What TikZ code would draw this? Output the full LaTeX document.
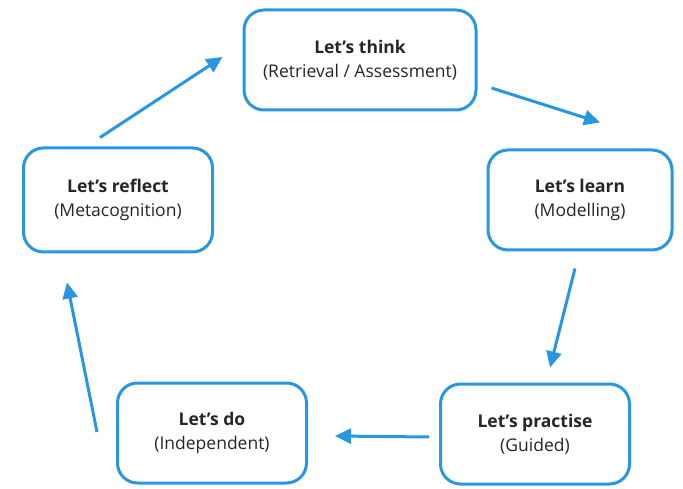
\documentclass[tikz,border=0pt]{standalone}
\usepackage{fontspec}
\setmainfont{Open Sans}
\usepackage{tikz}
\usetikzlibrary{arrows.meta}
\definecolor{cycleblue}{RGB}{40,150,226}
\tikzstyle{stage}=[draw=cycleblue, line width=3pt, rounded corners=20pt, fill=white, align=center, minimum width=189pt, minimum height=100pt, text=black!85, font=\fontsize{17.5}{24}\selectfont]
\tikzstyle{link}=[draw=cycleblue, line width=3pt, ->]

\begin{document}
\begin{tikzpicture}[x=1pt, y=1pt, >={Triangle[length=16pt, width=15pt]}]
                \useasboundingbox (0,0) rectangle (683,488);
                \node[stage, minimum width=232pt] (think) at (360, 428) {\textbf{Let’s think}\\(Retrieval / Assessment)};
                \node[stage, minimum width=184pt] (learn) at (580, 288) {\textbf{Let’s learn}\\(Modelling)};
                \node[stage] (practise) at (535, 54) {\textbf{Let’s practise}\\(Guided)};
                \node[stage] (do) at (212, 55) {\textbf{Let’s do}\\(Independent)};
                \node[stage, minimum height=104pt] (reflect) at (118, 288) {\textbf{Let’s reflect}\\(Metacognition)};
                \draw[link] ([shift={(-18,9)}]reflect.north) -- ([shift={(-20,3)}]think.west);
                \draw[link] ([shift={(14,-28)}]think.east) -- ([shift={(20,26)}]learn.north);
                \draw[link] ([shift={(-5,-17)}]learn.south) -- ([shift={(15,15)}]practise.north);
                \draw[link] ([shift={(-10,-3)}]practise.west) -- ([shift={(27,-3)}]do.east);
                \draw[link] ([shift={(-19,1)}]do.west) -- ([shift={(-51,-29)}]reflect.south);
            \end{tikzpicture}
\end{document}
